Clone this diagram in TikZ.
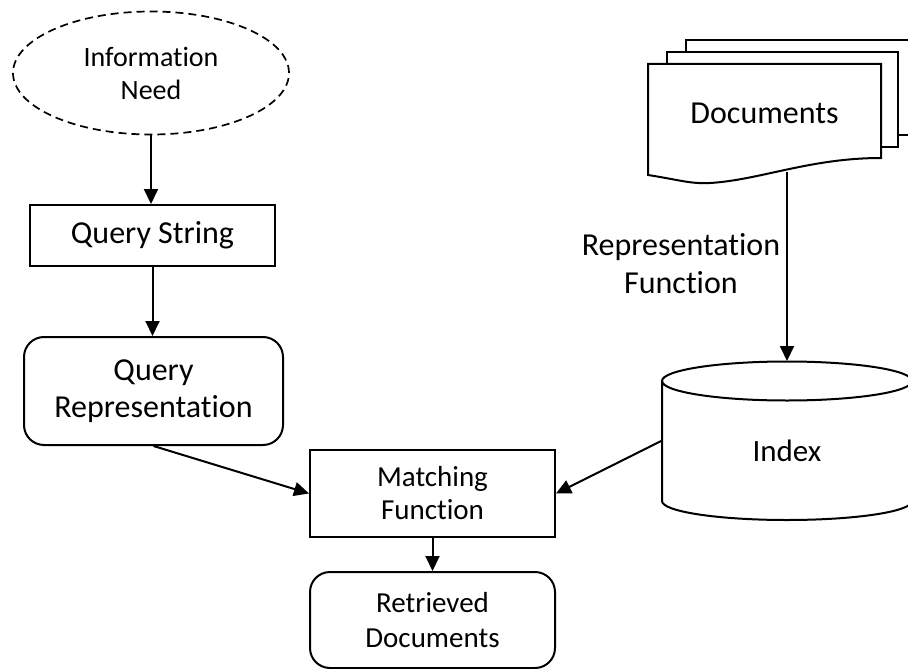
\documentclass[tikz,border=0pt]{standalone}
\usepackage{fontspec}
\setmainfont{Carlito}[Ligatures=NoCommon]
\usetikzlibrary{arrows.meta, shapes.geometric, positioning}

\begin{document}
\begin{tikzpicture}[x=1pt, y=-1pt, line width=2pt,
  box/.style={draw, rectangle, align=center, inner sep=0pt},
  roundbox/.style={box, rounded corners=20pt},
  arr/.style={-{Triangle[length=15pt,width=14pt]}}]
\useasboundingbox (0,0) rectangle (908,669);
\node (need) at (151,73) [draw, ellipse, dash pattern=on 8pt off 5pt, line width=1.7pt, minimum width=276pt, minimum height=123pt, inner sep=0pt, align=center, text depth=-8pt, font=\fontsize{28}{33}\selectfont] {Information\\Need};
\node (qstring) at (152.5,235.5) [box, minimum width=245pt, minimum height=61pt, font=\fontsize{32}{37}\selectfont] {Query String};
\node (qrep) at (153.5,391) [roundbox, minimum width=259pt, minimum height=108pt, font=\fontsize{32}{37}\selectfont] {Query\\Representation};
\node (match) at (432.5,493.5) [box, minimum width=245pt, minimum height=87pt, font=\fontsize{29}{33}\selectfont] {Matching\\Function};
\node (retrieved) at (432.5,620) [roundbox, minimum width=245pt, minimum height=96pt, font=\fontsize{29}{35}\selectfont] {Retrieved\\Documents};
\draw [fill=white] (686,40) rectangle (915,135);
\draw [fill=white] (667,52) rectangle (898,147);
\draw [fill=white] (648,64) -- (881,64) -- (881,158) .. controls (810,158) and (760,180) .. (710,183) .. controls (690,184) and (680,180) .. (648,175) -- cycle;
\node (docs) at (764.5,117.5) [minimum width=233pt, minimum height=107pt, inner sep=0pt, text height=20pt, text depth=9pt, font=\fontsize{32}{37}\selectfont] {Documents};
\node (reprlabel) at (681,264) [align=center, inner sep=0pt, font=\fontsize{32}{38}\selectfont] {Representation\\Function};
\draw [fill=white] (662,381) -- (662,501) arc [start angle=180, end angle=0, x radius=125, y radius=19] -- (912,381);
\draw (787,381) ellipse [x radius=125, y radius=19.5];
\node (index) at (787,441) [minimum width=250pt, minimum height=158pt, inner sep=0pt, text height=41pt, text depth=0pt, font=\fontsize{31}{37}\selectfont] {Index};
\draw [arr] (need.south) -- (need.south |- qstring.north);
\draw [arr] (qstring.south) -- (qstring.south |- qrep.north);
\draw [arr] (qrep.south) -- (match.west);
\draw [arr] (index.west) -- (match.east);
\draw [arr] (match.south) -- (retrieved.north);
\draw [arr] (docs.south -| index.north) -- (index.north);
\end{tikzpicture}
\end{document}
